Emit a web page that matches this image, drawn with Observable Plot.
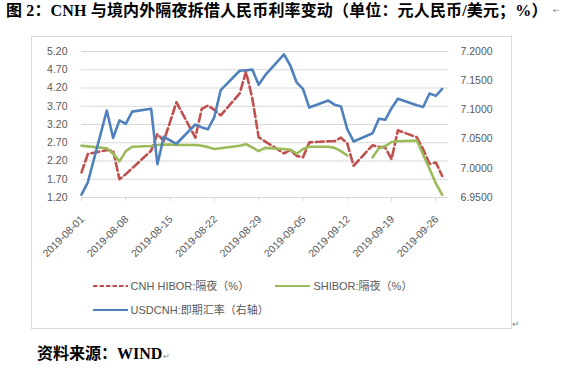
<!DOCTYPE html>
<html><head><meta charset="utf-8">
<script src="https://cdn.jsdelivr.net/npm/d3@7"></script>
<script src="https://cdn.jsdelivr.net/npm/@observablehq/plot@0.6"></script>
<style>
html,body{margin:0;padding:0;background:#fff}
body{width:563px;height:369px;overflow:hidden;position:relative;font-family:"Liberation Sans","Noto Sans CJK SC",sans-serif}
#chart{position:absolute;left:0;top:0}
#title{position:absolute;left:6px;top:1px;font:bold 16px "Liberation Serif","Noto Sans CJK SC",serif;white-space:nowrap;color:#000;line-height:20px;letter-spacing:0.15px}
#titleret{position:absolute;left:553px;top:6px;font:8px "DejaVu Sans",sans-serif;color:#888;line-height:10px}
#foot .ret{font-weight:normal;color:#888;font-size:8px;margin-left:1px}
#box{position:absolute;left:31px;top:36px;width:481px;height:293px;border:1px solid #d9d9d9;box-sizing:border-box}
.leg{position:absolute;font-size:11px;color:#595959;white-space:nowrap;line-height:14px}
.leg svg{position:absolute;left:0;top:0}
#foot{position:absolute;left:37px;top:344px;font:bold 16px "Liberation Serif","Noto Sans CJK SC",serif;white-space:nowrap;line-height:20px}
#boxret{position:absolute;left:512px;top:319px;font-size:9px;color:#888}
</style></head>
<body>
<div id="box"></div>
<div id="chart"></div>
<div id="title">图 2：CNH 与境内外隔夜拆借人民币利率变动（单位：元人民币/美元；%）</div>
<div id="titleret">←</div>
<div id="legend"></div>
<div id="boxret">↵</div>
<div id="foot">资料来源：WIND<span class="ret">↵</span></div>
<script>
const dates = ["2019-08-01","2019-08-02","2019-08-05","2019-08-06","2019-08-07","2019-08-08","2019-08-09",
"2019-08-12","2019-08-13","2019-08-14","2019-08-15","2019-08-16","2019-08-19","2019-08-20","2019-08-21",
"2019-08-22","2019-08-23","2019-08-26","2019-08-27","2019-08-28","2019-08-29","2019-08-30",
"2019-09-02","2019-09-03","2019-09-04","2019-09-05","2019-09-06","2019-09-09","2019-09-10","2019-09-11",
"2019-09-12","2019-09-13","2019-09-16","2019-09-17","2019-09-18","2019-09-19","2019-09-20",
"2019-09-23","2019-09-24","2019-09-25","2019-09-26","2019-09-27"];
const cnhHibor = [1.89,2.39,2.50,2.48,1.70,1.84,2.00,2.48,2.94,2.75,3.27,3.81,2.84,3.63,3.72,3.60,3.45,4.05,4.65,3.91,2.85,2.74,
2.41,2.50,2.34,2.30,2.71,2.74,2.74,2.84,2.68,2.07,2.63,2.59,2.57,2.25,3.04,2.85,2.52,2.12,2.16,1.79];
const shibor = [2.62,2.60,2.55,2.40,2.19,2.47,2.59,2.61,2.64,2.65,2.65,2.64,2.64,2.62,2.58,2.53,2.55,2.62,2.66,2.57,2.47,2.56,
2.53,2.51,2.40,2.53,2.59,2.59,2.56,2.47,2.35,null,2.30,2.55,2.61,2.72,2.74,2.76,2.37,1.99,1.59,1.27];
const usdcnh = [6.955,6.976,7.099,7.052,7.082,7.076,7.097,7.102,7.007,7.054,7.048,7.042,7.075,7.070,7.067,7.088,7.134,7.167,7.168,7.169,7.143,7.159,
7.195,7.176,7.147,7.136,7.104,7.116,7.109,7.106,7.067,7.046,7.060,7.085,7.083,7.103,7.119,7.108,7.105,7.128,7.124,7.136];
const leftTicks = [1.20,1.70,2.20,2.70,3.20,3.70,4.20,4.70,5.20];
const rightTicks = [6.95,7.00,7.05,7.10,7.15,7.20];
const xTicks = ["2019-08-01","2019-08-08","2019-08-15","2019-08-22","2019-08-29","2019-09-05","2019-09-12","2019-09-19","2019-09-26"];
const seriesNames = ["CNH HIBOR:隔夜（%）","SHIBOR:隔夜（%）","USDCNH:即期汇率（右轴）"];
const colors = ["#C0504D","#9BBB59","#4F81BD"];

// right axis (6.95–7.20) mapped onto left axis (1.20–5.20)
const leftDom = [1.2, 5.2], rightDom = [6.95, 7.20];
const toLeft = v => leftDom[0] + (v - rightDom[0]) * (leftDom[1]-leftDom[0])/(rightDom[1]-rightDom[0]);
const fromLeft = v => rightDom[0] + (v - leftDom[0]) * (rightDom[1]-rightDom[0])/(leftDom[1]-leftDom[0]);

const parse = s => new Date(s + "T00:00:00Z");
const hib = dates.map((d,i)=>({date:parse(d), v:cnhHibor[i]}));
const shi = dates.map((d,i)=>({date:parse(d), v:shibor[i]}));
const usd = dates.map((d,i)=>({date:parse(d), v:toLeft(usdcnh[i])}));
const xt = xTicks.map(parse);

const chart = Plot.plot({
  width:563, height:369,
  marginLeft:81, marginRight:115, marginTop:51, marginBottom:172,
  style:{fontFamily:"Liberation Sans, sans-serif", fontSize:"10.5px", color:"#595959", background:"transparent"},
  x:{type:"utc", domain:[parse("2019-08-01"), parse("2019-09-28")]},
  y:{domain:leftDom},
  marks:[
    Plot.ruleY(leftTicks, {stroke:"#d9d9d9", strokeWidth:1}),
    Plot.axisX({ticks:xt, tickSize:4, tickFormat:()=>"", stroke:"#d9d9d9", strokeOpacity:1}),
    Plot.text(xt, {x:d=>d, y:leftDom[0], text:d=>d3.utcFormat("%Y-%m-%d")(d), rotate:-45, textAnchor:"end", lineAnchor:"middle", dx:1, dy:20, fill:"#595959"}),
    Plot.axisY({anchor:"left", ticks:leftTicks, tickSize:0, tickPadding:14, tickFormat:d3.format(".2f"), label:null}),
    Plot.axisY({anchor:"right", ticks:rightTicks.map(toLeft), tickSize:0, tickPadding:12, tickFormat:d=>fromLeft(d).toFixed(4), label:null}),
    Plot.line(hib, {x:"date", y:"v", stroke:colors[0], strokeWidth:2.6, strokeDasharray:"8,3.5", strokeLinejoin:"round"}),
    Plot.line(shi, {x:"date", y:"v", stroke:colors[1], strokeWidth:2.6, strokeLinejoin:"round"}),
    Plot.line(usd, {x:"date", y:"v", stroke:colors[2], strokeWidth:2.6, strokeLinejoin:"round"})
  ]
});
document.getElementById("chart").appendChild(chart);

// legend
const legPos = [{x:92.6, y:286, dash:"4.5,2"},{x:275.4, y:286, dash:null},{x:92.6, y:309.5, dash:null}];
const leg = document.getElementById("legend");
seriesNames.forEach((name,i)=>{
  const p = legPos[i];
  const div = document.createElement("div");
  div.className = "leg";
  div.style.left = p.x + "px";
  div.style.top = (p.y - 7) + "px";
  div.style.paddingLeft = "38px";
  div.innerHTML = `<svg width="36" height="14"><line x1="0" x2="35" y1="7" y2="7" stroke="${colors[i]}" stroke-width="2.2" ${p.dash?`stroke-dasharray="${p.dash}"`:""}/></svg>` + name;
  leg.appendChild(div);
});
</script>
</body></html>
